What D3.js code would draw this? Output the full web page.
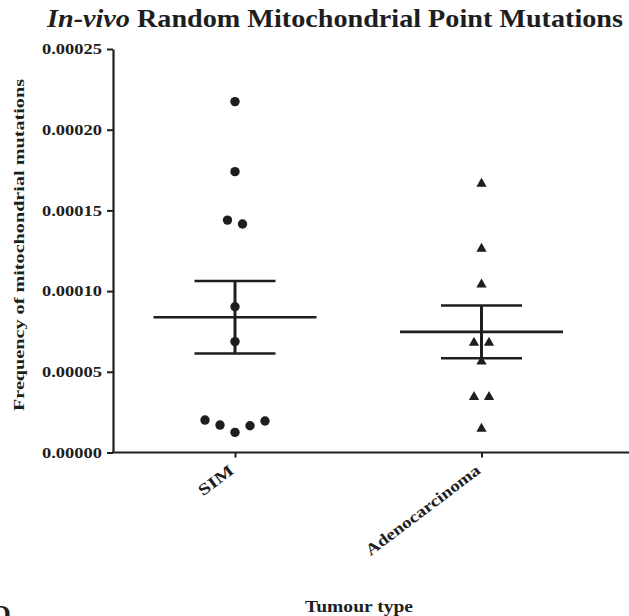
<!DOCTYPE html>
<html>
<head>
<meta charset="utf-8">
<script src="https://cdn.jsdelivr.net/npm/d3@7"></script>
<style>
  body { margin: 0; background: #ffffff; }
  svg text { font-family: "Liberation Serif", "Times New Roman", serif; fill: #1e1e1e; }
</style>
</head>
<body>
<svg id="chart" width="629" height="616"></svg>
<script>
// ---- data ----
const categories = ["SIM", "Adenocarcinoma"];
const simValues = [0.0002174, 0.000174, 0.000144, 0.0001416, 0.0000903, 0.0000687,
                   0.0000201, 0.000017, 0.0000125, 0.0000166, 0.0000195];
const adenoValues = [0.0001665, 0.0001263, 0.0001041, 0.000068, 0.000068, 0.0000564,
                     0.0000344, 0.0000344, 0.0000147];
const yTicks = [0, 0.00005, 0.0001, 0.00015, 0.0002, 0.00025];
const titleItalic = "In-vivo";
const titleRest = " Random Mitochondrial Point Mutations";
const yTitle = "Frequency of mitochondrial mutations";
const xTitle = "Tumour type";
const panelLetter = "D";

const groups = [
  { name: categories[0], values: simValues, shape: "circle" },
  { name: categories[1], values: adenoValues, shape: "triangle" }
];

// ---- layout ----
const W = 629, H = 616;
const axisX = 113, axisY = 452.5, topY = 49;
const ink = "#1e1e1e";

const svg = d3.select("#chart");

const x = d3.scalePoint().domain(categories).range([235, 481.5]);
const y = d3.scaleLinear().domain([0, 0.00025]).range([axisY, topY]);

// Spread points that would overlap vertically: sorted ascending within a
// cluster, the first goes in the middle and the rest alternate right/left.
function spreadOffsets(values, minGap, step) {
  const order = values.map((v, i) => i).sort((a, b) => values[a] - values[b]);
  const offsets = new Array(values.length).fill(0);
  const clusters = [];
  let cur = [order[0]];
  for (let k = 1; k < order.length; k++) {
    const gap = Math.abs(y(values[order[k]]) - y(values[order[k - 1]]));
    if (gap < minGap) cur.push(order[k]);
    else { clusters.push(cur); cur = [order[k]]; }
  }
  clusters.push(cur);
  clusters.forEach(c => {
    const n = c.length;
    c.forEach((id, j) => {
      let slot;
      if (n % 2 === 1) slot = j === 0 ? 0 : (j % 2 === 1 ? (j + 1) / 2 : -j / 2);
      else slot = (j % 2 === 0 ? 1 : -1) * (Math.floor(j / 2) + 0.5);
      offsets[id] = slot * step;
    });
  });
  return offsets;
}

// ---- title ----
const title = svg.append("text")
  .attr("x", 47).attr("y", 27)
  .attr("font-size", 26).attr("font-weight", "bold")
  .attr("textLength", 576).attr("lengthAdjust", "spacingAndGlyphs");
title.append("tspan").attr("font-style", "italic").text(titleItalic);
title.append("tspan").text(titleRest);

// ---- y axis ----
const yAxis = svg.append("g")
  .attr("transform", `translate(${axisX},0)`)
  .call(d3.axisLeft(y).tickValues(yTicks).tickFormat(d3.format(".5f"))
    .tickSize(6).tickSizeOuter(0).tickPadding(5));
yAxis.select(".domain").attr("stroke", ink).attr("stroke-width", 2.2);
yAxis.selectAll(".tick line").attr("stroke", ink).attr("stroke-width", 2);
yAxis.selectAll(".tick text")
  .attr("font-size", 15).attr("font-weight", "bold").attr("fill", ink)
  .attr("font-family", "'Liberation Serif', serif")
  .attr("textLength", 60).attr("lengthAdjust", "spacingAndGlyphs");

// ---- x axis ----
const xAxis = svg.append("g")
  .attr("transform", `translate(0,${axisY})`)
  .call(d3.axisBottom(x).tickSize(5).tickSizeOuter(0).tickFormat(""));
xAxis.select(".domain").attr("d", `M${axisX - 1},0H${W}`)
  .attr("stroke", ink).attr("stroke-width", 2.2);
xAxis.selectAll(".tick line").attr("stroke", ink).attr("stroke-width", 2);

// rotated category labels
const labelLen = { "SIM": 40, "Adenocarcinoma": 139 };
svg.append("g").selectAll("text")
  .data(categories)
  .join("text")
  .attr("transform", d => `translate(${x(d)},${axisY + 20}) rotate(-37)`)
  .attr("text-anchor", "end")
  .attr("font-size", 16).attr("font-weight", "bold")
  .attr("textLength", d => labelLen[d]).attr("lengthAdjust", "spacingAndGlyphs")
  .text(d => d);

// axis titles
svg.append("text")
  .attr("transform", `translate(24,245) rotate(-90)`)
  .attr("text-anchor", "middle")
  .attr("font-size", 15).attr("font-weight", "bold")
  .attr("textLength", 332).attr("lengthAdjust", "spacingAndGlyphs")
  .text(yTitle);

svg.append("text")
  .attr("x", 359).attr("y", 612)
  .attr("text-anchor", "middle")
  .attr("font-size", 16).attr("font-weight", "bold")
  .attr("textLength", 108).attr("lengthAdjust", "spacingAndGlyphs")
  .text(xTitle);

// panel letter, partly off the bottom edge
svg.append("text")
  .attr("x", -8).attr("y", 623)
  .attr("font-size", 26).attr("font-weight", "bold")
  .text(panelLetter);

// ---- mean and SEM bars ----
const stats = svg.append("g").attr("stroke", ink).attr("fill", "none");
groups.forEach(g => {
  const cx = x(g.name);
  const m = d3.mean(g.values);
  const sem = d3.deviation(g.values) / Math.sqrt(g.values.length);
  stats.append("line")
    .attr("x1", cx - 81.5).attr("x2", cx + 81.5)
    .attr("y1", y(m)).attr("y2", y(m)).attr("stroke-width", 2.6);
  [m + sem, m - sem].forEach(v => {
    stats.append("line")
      .attr("x1", cx - 40.5).attr("x2", cx + 40.5)
      .attr("y1", y(v)).attr("y2", y(v)).attr("stroke-width", 2.6);
  });
  stats.append("line")
    .attr("x1", cx).attr("x2", cx)
    .attr("y1", y(m - sem)).attr("y2", y(m + sem)).attr("stroke-width", 3);
});

// ---- points ----
const triangle = d3.symbol().type(d3.symbolTriangle).size(46);
groups.forEach(g => {
  const offs = spreadOffsets(g.values, 9, 15);
  const pts = svg.append("g").attr("fill", ink);
  if (g.shape === "circle") {
    pts.selectAll("circle").data(g.values).join("circle")
      .attr("cx", (d, i) => x(g.name) + offs[i])
      .attr("cy", d => y(d))
      .attr("r", 4.7);
  } else {
    pts.selectAll("path").data(g.values).join("path")
      .attr("d", triangle)
      .attr("transform", (d, i) => `translate(${x(g.name) + offs[i]},${y(d)})`);
  }
});
</script>
</body>
</html>
